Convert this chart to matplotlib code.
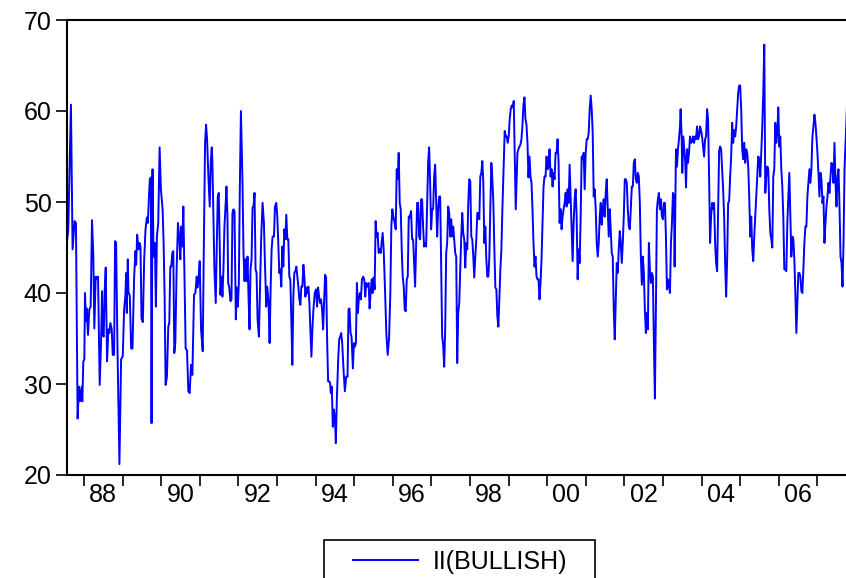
import numpy as np
import matplotlib
matplotlib.use("Agg")
import matplotlib.pyplot as plt
from matplotlib.patches import Rectangle
from matplotlib.ticker import FixedLocator, NullFormatter

plt.rcParams['font.family'] = ['Liberation Sans', 'DejaVu Sans']

# II(BULLISH) readings: decimal year, value
t = [
    1987.567, 1987.593, 1987.662, 1987.705, 1987.757, 1987.792, 1987.835, 1987.870, 1987.896, 1987.939,
    1987.957, 1987.983, 1988.009, 1988.026, 1988.052, 1988.069, 1988.104, 1988.138, 1988.173, 1988.208,
    1988.242, 1988.268, 1988.303, 1988.329, 1988.364, 1988.407, 1988.442, 1988.468, 1988.485, 1988.511,
    1988.537, 1988.563, 1988.598, 1988.632, 1988.658, 1988.684, 1988.719, 1988.745, 1988.780, 1988.806,
    1988.832, 1988.866, 1988.918, 1988.962, 1989.005, 1989.040, 1989.074, 1989.092, 1989.109, 1989.135,
    1989.152, 1989.187, 1989.222, 1989.256, 1989.300, 1989.334, 1989.352, 1989.378, 1989.412, 1989.438,
    1989.464, 1989.490, 1989.525, 1989.560, 1989.594, 1989.629, 1989.655, 1989.681, 1989.707, 1989.733,
    1989.750, 1989.776,
    1989.802, 1989.837, 1989.863, 1989.889, 1989.924, 1989.959, 1989.993, 1990.037, 1990.063, 1990.089,
    1990.115, 1990.149, 1990.184, 1990.210, 1990.236, 1990.262, 1990.288, 1990.314, 1990.340, 1990.366,
    1990.400, 1990.435, 1990.470, 1990.496, 1990.522, 1990.548, 1990.574, 1990.600, 1990.634, 1990.669,
    1990.704, 1990.738, 1990.773, 1990.808, 1990.851, 1990.886, 1990.920, 1990.946, 1990.972, 1990.998,
    1991.033, 1991.076, 1991.102, 1991.137, 1991.163, 1991.189, 1991.223, 1991.258, 1991.284, 1991.310,
    1991.327, 1991.353, 1991.379, 1991.414, 1991.440, 1991.466, 1991.492, 1991.518, 1991.535, 1991.561,
    1991.587, 1991.613, 1991.639, 1991.674, 1991.691, 1991.717, 1991.735, 1991.761, 1991.795, 1991.821,
    1991.847, 1991.873, 1991.899, 1991.934, 1991.960, 1991.986, 1992.012, 1992.038, 1992.066,
    1992.107, 1992.133, 1992.159, 1992.185, 1992.211, 1992.237, 1992.263, 1992.289, 1992.315, 1992.341,
    1992.367, 1992.393, 1992.419, 1992.445, 1992.471, 1992.497, 1992.532, 1992.558, 1992.592, 1992.627,
    1992.662, 1992.688, 1992.722, 1992.748, 1992.783, 1992.809, 1992.835, 1992.861, 1992.887, 1992.922,
    1992.948, 1992.982, 1993.008, 1993.034, 1993.060, 1993.086, 1993.112, 1993.138, 1993.164, 1993.190,
    1993.216, 1993.242, 1993.268, 1993.294, 1993.320, 1993.346, 1993.372, 1993.398, 1993.424, 1993.450,
    1993.476, 1993.502, 1993.528, 1993.554, 1993.580, 1993.606, 1993.632, 1993.658, 1993.684, 1993.710,
    1993.736, 1993.762, 1993.788, 1993.814, 1993.840, 1993.866, 1993.892, 1993.918, 1993.944, 1993.979,
    1994.013, 1994.039, 1994.065, 1994.091, 1994.117, 1994.143, 1994.169, 1994.195, 1994.221, 1994.247,
    1994.273, 1994.299, 1994.325, 1994.351, 1994.377, 1994.395,
    1994.421, 1994.447, 1994.473, 1994.499, 1994.525, 1994.551, 1994.586, 1994.612, 1994.638, 1994.664,
    1994.690, 1994.724, 1994.759, 1994.794, 1994.828, 1994.854, 1994.880, 1994.906, 1994.932, 1994.967,
    1994.993, 1995.019, 1995.045, 1995.071, 1995.097, 1995.123, 1995.149, 1995.175, 1995.201, 1995.235,
    1995.261, 1995.287, 1995.313, 1995.339, 1995.374, 1995.400, 1995.426, 1995.452, 1995.478, 1995.504,
    1995.530, 1995.556, 1995.582, 1995.608, 1995.634, 1995.660, 1995.686, 1995.712, 1995.738, 1995.764,
    1995.799, 1995.833, 1995.868, 1995.903, 1995.937, 1995.963, 1995.989, 1996.015, 1996.050, 1996.076,
    1996.102, 1996.128, 1996.154, 1996.180, 1996.206, 1996.232, 1996.258, 1996.284, 1996.310, 1996.336,
    1996.362, 1996.388, 1996.414, 1996.440, 1996.475, 1996.501, 1996.527, 1996.553, 1996.579, 1996.605,
    1996.631, 1996.657, 1996.683, 1996.709, 1996.735,
    1996.760, 1996.786, 1996.812, 1996.838, 1996.864, 1996.890, 1996.916, 1996.942, 1996.968, 1996.994,
    1997.020, 1997.046, 1997.072, 1997.098, 1997.124, 1997.150, 1997.176, 1997.202, 1997.228, 1997.254,
    1997.280, 1997.306, 1997.332, 1997.358, 1997.384, 1997.410, 1997.436, 1997.462, 1997.488, 1997.514,
    1997.540, 1997.566, 1997.592, 1997.618, 1997.644, 1997.670, 1997.696, 1997.722, 1997.748, 1997.774,
    1997.800, 1997.826, 1997.852, 1997.878, 1997.904, 1997.930, 1997.956, 1997.982, 1998.008, 1998.034,
    1998.060, 1998.086, 1998.112, 1998.138, 1998.164, 1998.190, 1998.216, 1998.242, 1998.268, 1998.294,
    1998.320, 1998.346, 1998.372, 1998.398, 1998.424, 1998.450, 1998.476, 1998.502, 1998.528, 1998.554,
    1998.580, 1998.606, 1998.632, 1998.658, 1998.684, 1998.710, 1998.736, 1998.762, 1998.788, 1998.814,
    1998.840, 1998.874, 1998.900, 1998.926, 1998.952, 1998.978, 1999.004, 1999.030, 1999.056, 1999.082,
    1999.108, 1999.134, 1999.160, 1999.186,
    1999.230, 1999.256, 1999.282, 1999.308, 1999.334, 1999.360, 1999.386, 1999.412, 1999.438, 1999.464,
    1999.490, 1999.516, 1999.542, 1999.568, 1999.594, 1999.620, 1999.646, 1999.672, 1999.698, 1999.724,
    1999.750, 1999.776, 1999.802, 1999.828, 1999.854, 1999.880, 1999.906, 1999.932, 1999.958, 1999.984,
    2000.010, 2000.036, 2000.062, 2000.088, 2000.114, 2000.140, 2000.166, 2000.192, 2000.218, 2000.244,
    2000.270, 2000.296, 2000.322, 2000.348, 2000.374, 2000.400, 2000.426, 2000.452, 2000.478, 2000.504,
    2000.530, 2000.556, 2000.582, 2000.608, 2000.634, 2000.660, 2000.686, 2000.712, 2000.738, 2000.764,
    2000.790, 2000.816, 2000.842, 2000.868, 2000.894, 2000.920, 2000.946, 2000.972, 2000.998, 2001.024,
    2001.050, 2001.076, 2001.102, 2001.128, 2001.154, 2001.180, 2001.206, 2001.232, 2001.258, 2001.284,
    2001.310, 2001.336, 2001.362, 2001.388, 2001.414,
    2001.439, 2001.465, 2001.491, 2001.517, 2001.543, 2001.569, 2001.595, 2001.621, 2001.647, 2001.673,
    2001.699, 2001.725, 2001.751, 2001.777, 2001.803, 2001.829, 2001.855, 2001.881, 2001.907, 2001.933,
    2001.959, 2001.985, 2002.011, 2002.037, 2002.063, 2002.089, 2002.115, 2002.141, 2002.167, 2002.193,
    2002.219, 2002.245, 2002.271, 2002.297, 2002.323, 2002.349, 2002.375, 2002.401, 2002.427, 2002.453,
    2002.479, 2002.505, 2002.531, 2002.557, 2002.583, 2002.609, 2002.635, 2002.661, 2002.687, 2002.713,
    2002.739, 2002.765, 2002.791, 2002.817, 2002.843, 2002.869, 2002.895, 2002.921, 2002.947, 2002.973,
    2002.999, 2003.025, 2003.051, 2003.077, 2003.103, 2003.129, 2003.155, 2003.181, 2003.207, 2003.233,
    2003.259, 2003.285, 2003.302, 2003.319, 2003.337, 2003.363, 2003.389, 2003.415, 2003.441, 2003.458,
    2003.484, 2003.501, 2003.527, 2003.553, 2003.579, 2003.597, 2003.623, 2003.649, 2003.675, 2003.701,
    2003.727, 2003.753,
    2003.779, 2003.805, 2003.831, 2003.857, 2003.883, 2003.909, 2003.935, 2003.961, 2003.987, 2004.013,
    2004.039, 2004.065, 2004.091, 2004.117, 2004.143, 2004.169, 2004.195, 2004.221, 2004.247, 2004.273,
    2004.299, 2004.325, 2004.351, 2004.377, 2004.403, 2004.429, 2004.455, 2004.481, 2004.507, 2004.533,
    2004.559, 2004.585, 2004.611, 2004.637, 2004.663, 2004.689, 2004.715, 2004.741, 2004.767, 2004.793,
    2004.819, 2004.845, 2004.871, 2004.897, 2004.923, 2004.949, 2004.975, 2005.001, 2005.027, 2005.053,
    2005.079, 2005.105, 2005.131, 2005.157, 2005.183, 2005.209, 2005.235, 2005.261, 2005.287, 2005.313,
    2005.339, 2005.365, 2005.391, 2005.417, 2005.443, 2005.469, 2005.495, 2005.521, 2005.547, 2005.573,
    2005.599, 2005.625, 2005.651, 2005.677, 2005.703, 2005.729, 2005.755, 2005.781, 2005.807, 2005.833,
    2005.858, 2005.884, 2005.910, 2005.936, 2005.962, 2005.988, 2006.014, 2006.040, 2006.066, 2006.092,
    2006.118, 2006.144, 2006.170, 2006.196, 2006.222, 2006.248, 2006.274, 2006.300, 2006.326, 2006.352,
    2006.378, 2006.404, 2006.430, 2006.456, 2006.482, 2006.508, 2006.534, 2006.560, 2006.586, 2006.612,
    2006.638, 2006.664, 2006.690, 2006.716, 2006.742, 2006.768, 2006.794, 2006.820, 2006.846, 2006.872,
    2006.898, 2006.924, 2006.950, 2006.976, 2007.002, 2007.028, 2007.054, 2007.080, 2007.106, 2007.132,
    2007.158, 2007.184, 2007.210, 2007.236, 2007.262, 2007.288, 2007.314, 2007.340, 2007.366, 2007.392,
    2007.418, 2007.444, 2007.470, 2007.496, 2007.522, 2007.548, 2007.574, 2007.600, 2007.626, 2007.652,
    2007.678, 2007.704, 2007.730, 2007.756, 2007.782,
]

bullish = [
    45.9, 47.0, 60.7, 44.8, 47.9, 47.7, 26.2, 29.7, 28.1, 29.7,
    28.1, 32.5, 32.7, 40.0, 36.9, 38.3, 35.4, 38.2, 38.5, 48.0,
    44.0, 36.1, 41.8, 41.6, 41.8, 29.9, 34.5, 40.2, 35.4, 35.2,
    40.3, 42.8, 32.5, 36.0, 35.6, 36.7, 36.0, 33.2, 33.2, 45.7,
    45.5, 34.5, 21.2, 32.7, 33.1, 38.2, 39.8, 42.2, 37.8, 43.7,
    40.1, 39.7, 33.9, 33.9, 41.8, 44.6, 43.1, 46.4, 44.8, 45.5,
    45.1, 37.2, 36.8, 43.7, 47.0, 48.3, 47.7, 50.4, 52.5, 52.7,
    25.7, 53.6,
    44.0, 45.5, 38.5, 46.2, 47.7, 56.0, 51.4, 49.2, 45.5, 39.6,
    29.9, 30.8, 36.3, 36.7, 42.9, 42.9, 44.4, 44.6, 33.4, 34.5,
    42.6, 47.7, 45.9, 43.7, 47.3, 45.1, 49.5, 42.6, 33.9, 33.7,
    29.2, 29.0, 32.1, 31.0, 39.8, 40.0, 41.8, 40.6, 41.8, 43.5,
    36.0, 33.6, 44.0, 56.5, 58.5, 56.9, 52.8, 49.5, 54.3, 56.0,
    54.3, 48.4, 42.6, 38.9, 45.1, 50.6, 51.0, 45.1, 39.8, 41.8,
    39.6, 42.6, 47.3, 50.1, 51.7, 48.4, 41.1, 40.7, 39.1, 39.3,
    48.8, 49.2, 49.0, 37.1, 40.6, 38.5, 41.1, 51.7, 60.0,
    52.1, 44.4, 41.3, 43.7, 41.3, 44.0, 39.6, 36.0, 42.6, 43.7,
    49.4, 49.5, 51.0, 42.6, 42.2, 37.1, 35.2, 40.0, 46.2, 49.9,
    47.7, 43.3, 38.5, 40.7, 38.9, 34.5, 40.4, 44.8, 46.2, 46.2,
    49.5, 49.9, 48.4, 45.5, 42.2, 42.6, 40.7, 45.1, 42.9, 47.0,
    45.9, 48.6, 45.9, 45.9, 41.8, 41.5, 37.1, 32.1, 39.6, 42.2,
    42.4, 42.9, 41.8, 40.7, 39.3, 38.7, 40.7, 40.7, 43.1, 41.8,
    39.6, 40.6, 40.0, 40.7, 38.9, 35.8, 33.0, 36.0, 38.2, 40.0,
    40.4, 38.5, 40.6, 39.6, 38.9, 39.3, 38.2, 36.0, 38.9, 42.0,
    41.7, 34.9, 30.3, 30.3, 30.1, 29.0,
    29.7, 25.3, 27.2, 26.4, 23.5, 28.3, 32.7, 34.9, 35.2, 35.6,
    34.5, 31.6, 29.2, 30.8, 30.8, 38.2, 38.3, 35.6, 35.2, 31.7,
    34.5, 34.1, 34.5, 41.1, 37.8, 39.6, 40.0, 39.3, 41.5, 41.8,
    41.5, 39.6, 41.1, 40.7, 41.1, 38.3, 40.0, 41.5, 40.0, 41.7,
    40.4, 47.9, 46.2, 46.6, 44.4, 44.8, 44.4, 45.5, 46.6, 44.8,
    40.4, 35.6, 33.2, 34.9, 40.0, 47.3, 49.2, 48.4, 47.7, 47.0,
    53.6, 52.5, 55.4, 49.9, 49.2, 44.8, 41.8, 40.7, 38.2, 38.0,
    41.5, 41.8, 48.4, 48.3, 49.0, 45.9, 45.9, 43.3, 40.7, 45.5,
    49.9, 49.9, 46.2, 45.9, 50.3,
    50.3, 47.3, 45.1, 45.5, 45.1, 49.9, 54.3, 56.0, 52.1, 47.0,
    49.2, 49.2, 52.8, 54.1, 50.3, 46.2, 49.2, 50.6, 50.6, 42.6,
    35.2, 34.3, 31.9, 36.0, 44.4, 45.5, 49.5, 48.8, 46.2, 48.1,
    46.2, 47.3, 45.9, 44.4, 44.0, 32.3, 37.8, 38.9, 42.6, 46.2,
    48.8, 46.6, 45.9, 42.8, 45.5, 44.8, 49.9, 52.5, 52.3, 46.2,
    45.9, 44.0, 41.7, 44.0, 45.9, 48.8, 48.8, 48.1, 52.8, 53.2,
    54.5, 52.1, 45.5, 47.3, 43.7, 41.8, 41.8, 44.0, 49.5, 54.3,
    52.5, 49.9, 44.8, 40.6, 40.4, 37.4, 36.3, 39.6, 42.6, 44.8,
    49.2, 53.9, 57.8, 57.2, 57.2, 56.5, 57.2, 59.1, 60.2, 60.6,
    60.4, 61.1, 55.0, 49.2,
    55.4, 55.8, 56.1, 56.3, 56.9, 58.5, 60.7, 61.5, 59.1, 58.5,
    56.5, 52.7, 55.0, 52.8, 52.1, 49.2, 45.5, 42.9, 44.0, 41.8,
    41.5, 41.5, 39.3, 41.1, 43.7, 47.7, 51.7, 52.8, 52.8, 55.0,
    53.6, 53.9, 55.8, 52.8, 53.6, 51.7, 53.2, 52.5, 55.4, 55.4,
    56.9, 54.3, 47.7, 49.2, 47.0, 48.4, 49.2, 49.9, 51.0, 49.5,
    51.4, 49.9, 54.1, 50.6, 47.0, 43.5, 47.7, 50.3, 51.4, 48.4,
    41.5, 44.8, 43.3, 48.4, 55.0, 54.7, 55.4, 51.4, 55.4, 56.9,
    56.9, 57.6, 60.2, 61.7, 60.2, 57.6, 50.6, 51.4, 49.2, 45.5,
    44.0, 45.5, 48.4, 49.9, 47.5,
    49.2, 50.3, 48.4, 51.0, 52.5, 49.2, 46.2, 49.2, 47.0, 44.4,
    44.0, 38.2, 34.9, 38.9, 43.3, 42.2, 44.8, 46.8, 45.5, 43.3,
    45.5, 48.4, 52.5, 52.5, 52.1, 49.2, 47.3, 47.0, 49.2, 51.7,
    51.7, 54.3, 54.7, 52.5, 52.1, 53.2, 52.8, 49.9, 44.0, 40.9,
    44.0, 42.2, 38.2, 35.6, 37.8, 36.0, 45.5, 42.6, 41.1, 42.2,
    41.8, 34.5, 28.4, 38.2, 49.2, 50.3, 51.0, 49.2, 50.3, 48.4,
    48.1, 49.9, 49.9, 46.2, 40.4, 41.5, 40.7, 40.0, 45.5, 47.7,
    51.0, 50.6, 42.9, 49.2, 55.8, 53.9, 55.8, 56.9, 58.3, 60.2,
    57.2, 53.2, 57.2, 55.8, 54.3, 51.6, 55.8, 54.3, 55.4, 57.2,
    56.5, 56.6,
    57.2, 56.5, 57.2, 56.9, 58.3, 56.9, 57.2, 58.3, 57.9, 57.2,
    56.1, 55.0, 56.9, 57.2, 60.2, 59.1, 52.8, 45.5, 48.4, 49.9,
    49.2, 49.9, 45.5, 43.3, 42.4, 49.2, 55.6, 56.1, 55.8, 53.6,
    51.4, 48.4, 43.3, 39.6, 43.7, 49.9, 50.1, 52.8, 55.0, 58.7,
    56.5, 57.9, 57.2, 58.3, 60.2, 62.0, 62.8, 62.8, 60.2, 55.8,
    54.7, 56.5, 54.3, 55.8, 55.4, 53.9, 50.6, 46.2, 48.4, 44.8,
    43.5, 46.2, 48.4, 50.6, 52.8, 55.0, 54.7, 52.8, 55.4, 58.3,
    62.0, 67.3, 51.0, 52.8, 53.9, 53.6, 49.2, 46.6, 45.9, 45.0,
    52.8, 53.6, 58.7, 56.5, 57.6, 60.4, 56.1, 57.2, 53.6, 51.7,
    48.4, 42.6, 42.6, 42.4, 47.7, 50.6, 53.2, 48.4, 44.0, 46.2,
    45.9, 43.7, 40.0, 35.6, 38.9, 42.2, 42.2, 41.8, 40.2, 40.0,
    42.6, 45.5, 47.3, 47.3, 50.6, 52.1, 53.6, 52.1, 53.6, 57.2,
    58.3, 59.6, 58.7, 57.2, 55.4, 53.2, 50.6, 53.2, 52.5, 49.9,
    50.6, 45.5, 47.7, 49.5, 50.6, 52.1, 51.0, 52.8, 54.3, 53.9,
    52.1, 56.5, 52.1, 49.5, 52.8, 53.6, 49.5, 44.0, 43.3, 40.7,
    45.5, 53.6, 56.5, 59.5, 61.8,
]

year_ticks = list(range(1988, 2008))
label_years = list(range(1988, 2008, 2))
year_labels = ["88", "90", "92", "94", "96", "98", "00", "02", "04", "06"]

fig = plt.figure(figsize=(8.46, 5.78), dpi=100)
ax = fig.add_axes([67 / 846, 1 - 475 / 578, (849 - 67) / 846, (475 - 20) / 578])

line, = ax.plot(t, bullish, color="#0000ff", lw=1.4, label="II(BULLISH)")

ax.set_xlim(1987.56, 2007.82)
ax.set_ylim(20, 70)
ax.set_yticks(range(20, 71, 10))

# year boundaries carry the tick marks, labels sit mid-year
ax.xaxis.set_major_locator(FixedLocator(year_ticks))
ax.xaxis.set_major_formatter(NullFormatter())
ax.xaxis.set_minor_locator(FixedLocator([y + 0.5 for y in label_years]))
ax.set_xticklabels(year_labels, minor=True)
ax.tick_params(axis="x", which="major", direction="out", length=8, width=1.2)
ax.tick_params(axis="x", which="minor", length=0, pad=6, labelsize=18)
ax.tick_params(axis="y", direction="out", length=8, width=1.2, labelsize=18, pad=3)

for s in ["left", "bottom", "top"]:
    ax.spines[s].set_linewidth(1.5)
ax.spines["right"].set_visible(False)

# legend entry without its own frame; the box is drawn open at the bottom edge
leg = fig.legend(handles=[line], loc="upper center", bbox_to_anchor=(460 / 846, 1 - 540 / 578),
                 frameon=False, fontsize=18, handlelength=2.6,
                 borderpad=0.4, handletextpad=0.6, borderaxespad=0)
fig.patches.append(Rectangle((324 / 846, -0.02), (595 - 324) / 846, 0.02 + (578 - 540) / 578,
                             transform=fig.transFigure, fill=False, edgecolor="black", lw=1.2))

fig.savefig("out.png", dpi=100)
